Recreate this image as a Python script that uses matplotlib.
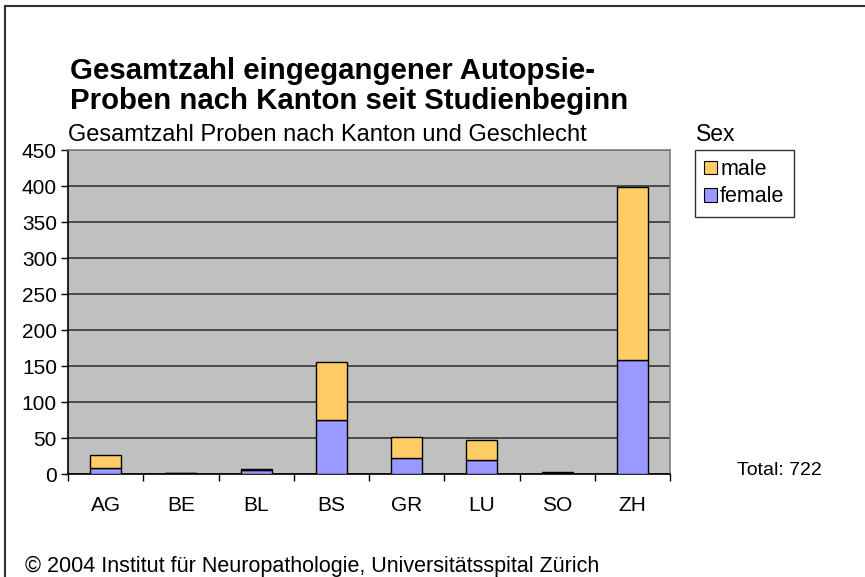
import numpy as np
import matplotlib
matplotlib.use('Agg')
import matplotlib.pyplot as plt
from matplotlib.patches import Patch
from matplotlib.lines import Line2D

plt.rcParams['font.family'] = ['Liberation Sans', 'DejaVu Sans']

# Kantone und Anzahl Proben
kantone = ['AG', 'BE', 'BL', 'BS', 'GR', 'LU', 'SO', 'ZH']
female = [9, 1, 5, 75, 22, 20, 1, 159]
male = [18, 1, 2, 80, 30, 27, 2, 239]
total_label = 'Total: 722'

col_male = '#FFCC66'
col_female = '#9999FF'

fig = plt.figure(figsize=(8.65, 5.77), dpi=100)
ax = fig.add_axes([68/865, 1-474/577, 602/865, 324/577])

x = np.arange(len(kantone))
ax.bar(x, female, width=0.41, color=col_female, edgecolor='black', linewidth=1.0, zorder=3)
ax.bar(x, male, bottom=female, width=0.41, color=col_male, edgecolor='black', linewidth=1.0, zorder=3)

ax.set_facecolor('#C0C0C0')
ax.set_xlim(-0.5, len(kantone) - 0.5)
ax.set_ylim(0, 450)
ax.set_yticks(np.arange(0, 451, 50))
ax.yaxis.grid(True, color='#404040', linewidth=1.3, zorder=0)
ax.set_axisbelow(True)

# ticks between categories, labels under categories
ax.set_xticks(np.arange(-0.5, len(kantone)), minor=False)
ax.set_xticklabels([])
ax.set_xticks(x, minor=True)
ax.set_xticklabels(kantone, minor=True)
ax.tick_params(axis='x', which='major', length=5, width=1, direction='out')
ax.tick_params(axis='x', which='minor', length=0, pad=16, labelsize=15)
ax.tick_params(axis='y', length=5, width=1, direction='out', labelsize=15, pad=3)

for s in ['top', 'right']:
    ax.spines[s].set_color('#808080')
    ax.spines[s].set_linewidth(1.2)
for s in ['left', 'bottom']:
    ax.spines[s].set_color('black')
    ax.spines[s].set_linewidth(1.2)

handles = [Patch(facecolor=col_male, edgecolor='black', linewidth=0.8, label='male'),
           Patch(facecolor=col_female, edgecolor='black', linewidth=0.8, label='female')]
leg = fig.legend(handles=handles, loc='upper left', bbox_to_anchor=(695/865, 1-150/577),
                 frameon=True, fancybox=False, edgecolor='black', fontsize=15.5,
                 handlelength=0.6, handleheight=0.6, handletextpad=0.15,
                 borderpad=0.42, labelspacing=0.3, borderaxespad=0)
leg.get_frame().set_linewidth(1.0)

fig.text(70/865, 1-79/577, 'Gesamtzahl eingegangener Autopsie-',
         fontsize=21.2, fontweight='bold', va='baseline', ha='left')
fig.text(70/865, 1-109/577, 'Proben nach Kanton seit Studienbeginn',
         fontsize=21.2, fontweight='bold', va='baseline', ha='left')
fig.text(68/865, 1-141/577, 'Gesamtzahl Proben nach Kanton und Geschlecht', fontsize=17,
         va='baseline', ha='left')
fig.text(696/865, 1-141/577, 'Sex', fontsize=16.5, va='baseline', ha='left')
fig.text(737/865, 1-475/577, total_label, fontsize=14, va='baseline', ha='left')
fig.text(25/865, 1-572/577, '\u00a9 2004 Institut f\u00fcr Neuropathologie, Universit\u00e4tsspital Z\u00fcrich',
         fontsize=15.5, va='baseline', ha='left')

# Rahmen oben und links
fig.add_artist(Line2D([5/865, 5/865], [0, 1-6/577], color='#333333', linewidth=1.5))
fig.add_artist(Line2D([5/865, 1], [1-6/577, 1-6/577], color='#333333', linewidth=1.5))

fig.savefig('out.png', dpi=100)
